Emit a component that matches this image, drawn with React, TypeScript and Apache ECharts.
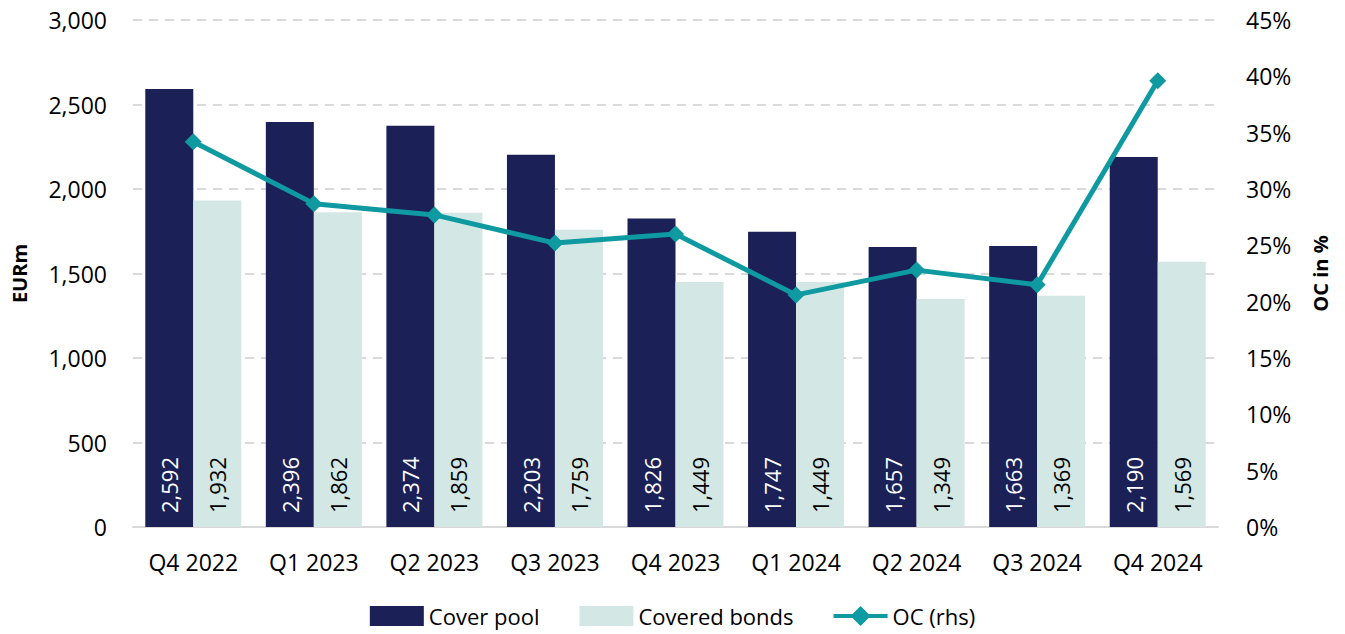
import React, { useEffect, useRef } from "react";
import * as echarts from "echarts";

const categories = ["Q4 2022", "Q1 2023", "Q2 2023", "Q3 2023", "Q4 2023", "Q1 2024", "Q2 2024", "Q3 2024", "Q4 2024"];
const coverPool = [2592, 2396, 2374, 2203, 1826, 1747, 1657, 1663, 2190];
const coveredBonds = [1932, 1862, 1859, 1759, 1449, 1449, 1349, 1369, 1569];
const ocPercent = [34.2, 28.7, 27.7, 25.2, 26.0, 20.6, 22.8, 21.5, 39.6];

const FONT = "'Open Sans', sans-serif";
const NAVY = "#1b2157";
const MINT = "#d3e8e4";
const TEAL = "#0e9aa0";

const fmt = (v: number) => v.toLocaleString("en-US");

const LINE_ICON = "path://M0,8 L19,8 L27,0 L35,8 L54,8 L54,12 L35,12 L27,20 L19,12 L0,12 Z";

export default function App() {
  const ref = useRef<HTMLDivElement>(null);
  useEffect(() => {
    if (!ref.current) return;
    const chart = echarts.init(ref.current, undefined, { renderer: "svg" });
    const barLabel = (color: string) => ({
      show: true,
      position: "insideBottom",
      rotate: 90,
      align: "left",
      verticalAlign: "middle",
      distance: 14,
      color,
      fontFamily: FONT,
      fontSize: 22,
      formatter: (p: any) => fmt(p.value),
    });
    chart.setOption({
      animation: false,
      textStyle: { fontFamily: FONT },
      grid: { left: 133, right: 127, top: 20, bottom: 107, containLabel: false, outerBoundsMode: "none" },
      legend: {
        bottom: 2,
        left: "center",
        itemWidth: 54,
        itemHeight: 20,
        itemGap: 40,
        textStyle: { fontFamily: FONT, fontSize: 22, color: "#000" },
        data: [
          { name: "Cover pool", icon: "rect" },
          { name: "Covered bonds", icon: "rect" },
          { name: "OC (rhs)", icon: LINE_ICON, itemStyle: { color: TEAL } },
        ],
      },
      xAxis: {
        type: "category",
        data: categories,
        axisLine: { lineStyle: { color: "#d9d9d9", width: 2 } },
        axisTick: { show: false },
        axisLabel: { color: "#000", fontSize: 23, fontFamily: FONT, margin: 23 },
      },
      yAxis: [
        {
          type: "value",
          min: 0,
          max: 3000,
          interval: 500,
          name: "EURm",
          nameLocation: "middle",
          nameGap: 104,
          nameTextStyle: { fontFamily: FONT, fontSize: 20, fontWeight: "bold", color: "#000" },
          axisLabel: { color: "#000", fontSize: 23, fontFamily: FONT, margin: 26, formatter: (v: number) => fmt(v) },
          splitLine: { lineStyle: { color: "#d9d9d9", width: 2, type: [9, 7] } },
          axisLine: { show: false },
          axisTick: { show: false },
        },
        {
          type: "value",
          min: 0,
          max: 45,
          interval: 5,
          name: "OC in %",
          nameLocation: "middle",
          nameGap: 92,
          nameTextStyle: { fontFamily: FONT, fontSize: 20, fontWeight: "bold", color: "#000" },
          axisLabel: { color: "#000", fontSize: 23, fontFamily: FONT, margin: 28, formatter: "{value}%" },
          splitLine: { show: false },
          axisLine: { show: false },
          axisTick: { show: false },
        },
      ],
      series: [
        {
          name: "Cover pool",
          type: "bar",
          data: coverPool,
          barWidth: 48,
          barGap: "0%",
          itemStyle: { color: NAVY },
          label: barLabel("#ffffff"),
        },
        {
          name: "Covered bonds",
          type: "bar",
          data: coveredBonds,
          barWidth: 48,
          barGap: "0%",
          itemStyle: { color: MINT },
          label: barLabel("#000000"),
        },
        {
          name: "OC (rhs)",
          type: "line",
          yAxisIndex: 1,
          data: ocPercent,
          symbol: "diamond",
          symbolSize: 17,
          lineStyle: { color: TEAL, width: 5 },
          itemStyle: { color: TEAL },
          z: 5,
        },
      ],
    });
    return () => chart.dispose();
  }, []);
  return <div ref={ref} style={{ width: 1345, height: 634, position: "absolute", left: 0, top: 0 }} />;
}
